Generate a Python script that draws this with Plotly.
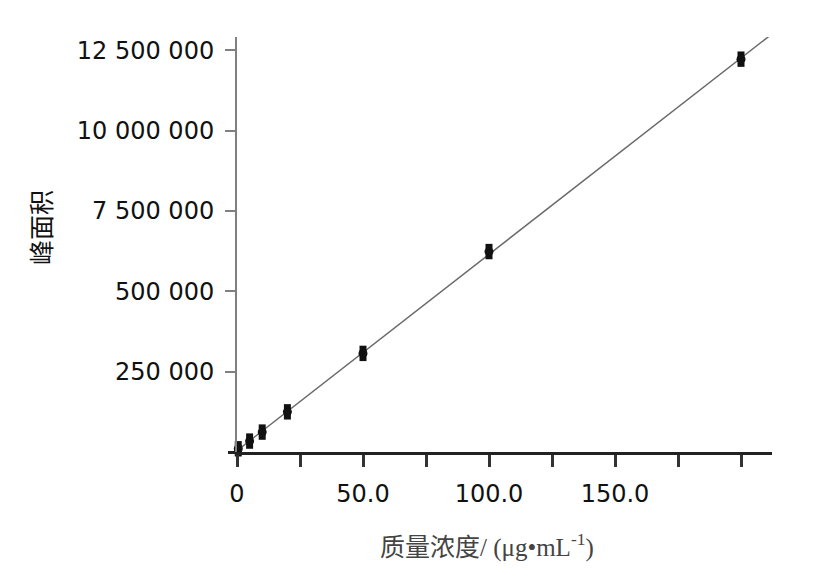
import numpy as np
import plotly.graph_objects as go

# calibration points (concentration ug/mL, peak area)
conc = [0.5, 5, 10, 20, 50, 100, 200]
peak_area = [100000, 340000, 620000, 1250000, 3070000, 6240000, 12230000]

x_label_vals = [0, 50, 100, 150]
x_label_text = ["0", "50.0", "100.0", "150.0"]
x_minor_vals = [25, 75, 125, 175, 200]
y_label_vals = [2500000, 5000000, 7500000, 10000000, 12500000]
# labels as printed in the original figure
y_label_text = ["250 000", "500 000", "7 500 000", "10 000 000", "12 500 000"]
y_minor_vals = [0]

X_MAX = 212.3
Y_MAX = 12920000

# the page body has an 8px margin, so pixel targets are shifted by it
PAGE_OFF = 8
W, H = 821, 570
PLOT_L, PLOT_R, PLOT_T, PLOT_B = 237, 772, 37, 452

slope, intercept = np.polyfit(conc, peak_area, 1)
fit_x = np.array([0, X_MAX])
fit_y = slope * fit_x + intercept

fig = go.Figure()

fig.add_trace(go.Scatter(
    x=fit_x, y=fit_y, mode="lines",
    line=dict(color="#6a6a6a", width=1.5),
    hoverinfo="skip", showlegend=False,
))

# vertical elliptic dots: a bar plus a round cap
fig.add_trace(go.Scatter(
    x=conc, y=peak_area, mode="markers",
    marker=dict(symbol="line-ns", size=11, line=dict(color="#111", width=7)),
    cliponaxis=False, showlegend=False,
))
fig.add_trace(go.Scatter(
    x=conc, y=peak_area, mode="markers",
    marker=dict(symbol="circle", size=9, color="#111", line=dict(width=0)),
    cliponaxis=False, showlegend=False,
))

tick_font = dict(family="DejaVu Sans", size=24, color="#111")

fig.update_layout(
    width=W, height=H,
    margin=dict(l=PLOT_L - PAGE_OFF, r=W + PAGE_OFF - PLOT_R,
                t=PLOT_T - PAGE_OFF, b=H + PAGE_OFF - PLOT_B),
    plot_bgcolor="white", paper_bgcolor="white",
    xaxis=dict(
        range=[0, X_MAX], tickvals=x_label_vals, ticktext=x_label_text,
        showgrid=False, zeroline=False,
        showline=True, linecolor="#222", linewidth=3,
        ticks="outside", ticklen=12, tickwidth=3, tickcolor="#333",
        minor=dict(tickvals=x_minor_vals, ticks="outside", ticklen=12,
                   tickwidth=3, tickcolor="#333", showgrid=False),
        tickfont=tick_font, ticklabelstandoff=6,
    ),
    yaxis=dict(
        range=[0, Y_MAX], tickvals=y_label_vals, ticktext=y_label_text,
        showgrid=False, zeroline=False,
        showline=True, linecolor="#808080", linewidth=2,
        ticks="outside", ticklen=10, tickwidth=2, tickcolor="#808080",
        minor=dict(tickvals=y_minor_vals, ticks="outside", ticklen=7,
                   tickwidth=3, tickcolor="#222", showgrid=False),
        tickfont=tick_font, ticklabelstandoff=6,
    ),
)

pw = W - (PLOT_L - PAGE_OFF) - (W + PAGE_OFF - PLOT_R)
ph = H - (PLOT_T - PAGE_OFF) - (H + PAGE_OFF - PLOT_B)


def px_to_paper(px, py):
    return (px - PLOT_L) / pw, (PLOT_B - py) / ph


yt_x, yt_y = px_to_paper(40, 228)
xt_x, xt_y = px_to_paper(487, 545)
fig.add_annotation(
    text="峰面积", textangle=-90, x=yt_x, y=yt_y,
    xref="paper", yref="paper", xanchor="center", yanchor="middle",
    showarrow=False,
    font=dict(family="Noto Sans CJK SC", size=25, color="#111"),
)
fig.add_annotation(
    text="质量浓度/ (μg•mL<sup>-1</sup>)", x=xt_x, y=xt_y,
    xref="paper", yref="paper", xanchor="center", yanchor="middle",
    showarrow=False,
    font=dict(family="Liberation Serif, Noto Sans CJK SC", size=25, color="#444"),
)

fig.write_html("out.html")
